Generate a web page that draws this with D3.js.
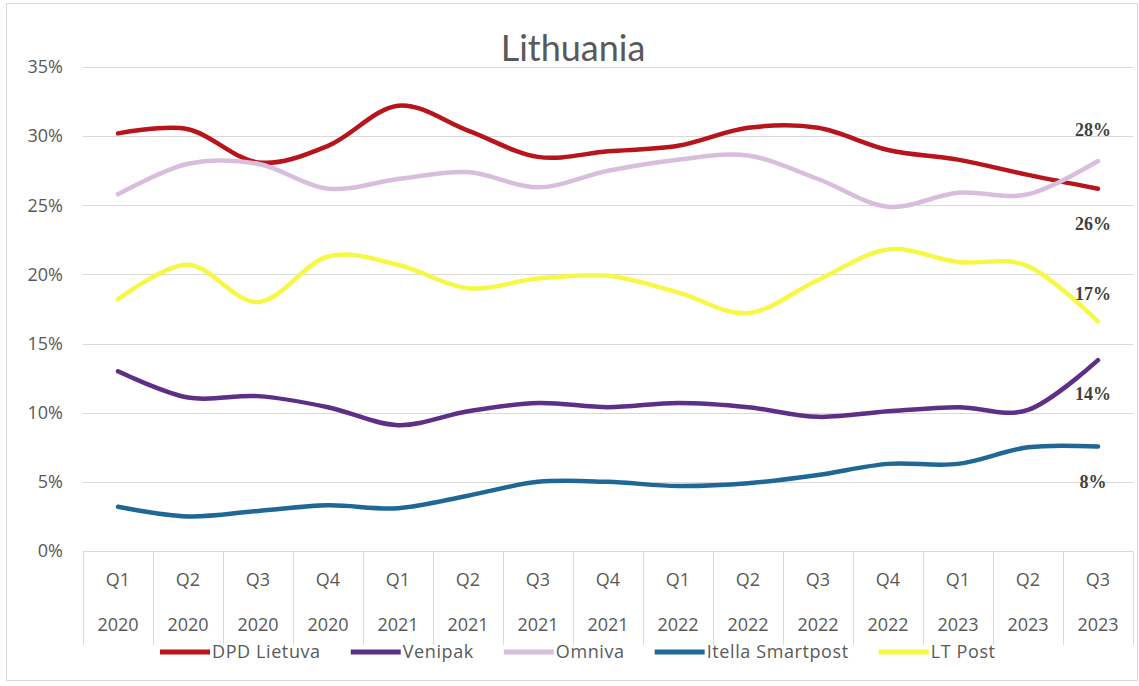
<!DOCTYPE html>
<html>
<head>
<meta charset="utf-8">
<script src="https://cdn.jsdelivr.net/npm/d3@7"></script>
<style>
  body { margin: 0; background: #fff; }
  text { font-family: "Open Sans", sans-serif; }
</style>
</head>
<body>
<svg id="chart" width="1139" height="686"></svg>
<script>
// quarters and years on the two-level category axis
const quarters = ["Q1","Q2","Q3","Q4","Q1","Q2","Q3","Q4","Q1","Q2","Q3","Q4","Q1","Q2","Q3"];
const years = ["2020","2020","2020","2020","2021","2021","2021","2021","2022","2022","2022","2022","2023","2023","2023"];

// market share in percent
const dpdLietuva = [30.2, 30.5, 28.1, 29.3, 32.2, 30.4, 28.5, 28.9, 29.3, 30.6, 30.6, 29.0, 28.3, 27.2, 26.2];
const venipak = [13.0, 11.1, 11.2, 10.4, 9.1, 10.1, 10.7, 10.4, 10.7, 10.4, 9.7, 10.1, 10.4, 10.2, 13.8];
const omniva = [25.8, 28.0, 28.0, 26.2, 26.9, 27.4, 26.3, 27.5, 28.3, 28.6, 26.9, 24.9, 25.9, 25.8, 28.2];
const itellaSmartpost = [3.2, 2.5, 2.9, 3.3, 3.1, 4.0, 5.0, 5.0, 4.7, 4.9, 5.5, 6.3, 6.3, 7.5, 7.55];
const ltPost = [18.2, 20.7, 18.0, 21.3, 20.7, 19.0, 19.7, 19.9, 18.7, 17.2, 19.6, 21.8, 20.9, 20.6, 16.6];

const yTicks = [0, 5, 10, 15, 20, 25, 30, 35];

const series = [
    {name: "DPD Lietuva", values: dpdLietuva, color: "#b8141c"},
    {name: "Venipak", values: venipak, color: "#5e2f86"},
    {name: "Omniva", values: omniva, color: "#d8bedc"},
    {name: "Itella Smartpost", values: itellaSmartpost, color: "#1f6896"},
    {name: "LT Post", values: ltPost, color: "#f7f745"}
];

//where the end labels sit relative to the last point
const labelDy = {"DPD Lietuva": 41, "Venipak": 40, "Omniva": -25, "Itella Smartpost": 41, "LT Post": -21};

const svg = d3.select("#chart");
const grid = "#d9d9d9";
const textColor = "#595959";

//outer chart border
svg.append("rect")
    .attr("x", 6.5).attr("y", 3.5)
    .attr("width", 1131).attr("height", 677)
    .attr("fill", "#fff").attr("stroke", grid);

const x = d3.scaleBand()
    .domain(d3.range(quarters.length))
    .range([83, 1133]);

const y = d3.scaleLinear()
    .domain([0, 35])
    .range([551, 67]);

//title
svg.append("text")
    .attr("x", 573).attr("y", 61)
    .attr("text-anchor", "middle")
    .style("font-family", "Lato, sans-serif")
    .style("font-size", "36px")
    .attr("fill", textColor)
    .text("Lithuania");

//horizontal grid lines
svg.append("g")
    .selectAll("line")
    .data(yTicks)
    .enter().append("line")
    .attr("x1", 83).attr("x2", 1133)
    .attr("y1", d => Math.round(y(d)) + 0.5)
    .attr("y2", d => Math.round(y(d)) + 0.5)
    .attr("stroke", grid);

//y labels
svg.append("g")
    .selectAll("text")
    .data(yTicks)
    .enter().append("text")
    .attr("x", 63)
    .attr("y", d => y(d))
    .attr("dy", "0.35em")
    .attr("text-anchor", "end")
    .style("font-size", "18px")
    .attr("fill", textColor)
    .text(d => d + "%");

//category separators below the axis
const seps = d3.range(quarters.length + 1).map(i => i < quarters.length ? x(i) : x.range()[1]);
svg.append("g")
    .selectAll("line")
    .data(seps)
    .enter().append("line")
    .attr("x1", d => Math.round(d) + 0.5).attr("x2", d => Math.round(d) + 0.5)
    .attr("y1", 551).attr("y2", 645)
    .attr("stroke", grid);

const catG = svg.append("g");
catG.selectAll(".q")
    .data(quarters)
    .enter().append("text")
    .attr("class", "q")
    .attr("x", (d, i) => x(i) + x.bandwidth() / 2)
    .attr("y", 580)
    .attr("dy", "0.35em")
    .attr("text-anchor", "middle")
    .style("font-size", "18px")
    .attr("fill", textColor)
    .text(d => d);

catG.selectAll(".yr")
    .data(years)
    .enter().append("text")
    .attr("class", "yr")
    .attr("x", (d, i) => x(i) + x.bandwidth() / 2)
    .attr("y", 625)
    .attr("dy", "0.35em")
    .attr("text-anchor", "middle")
    .style("font-size", "18px")
    .attr("fill", textColor)
    .text(d => d);

//smoothed lines, like excel does
const line = d3.line()
    .x((d, i) => x(i) + x.bandwidth() / 2)
    .y(d => y(d))
    .curve(d3.curveCardinal.tension(0));

svg.append("g")
    .selectAll("path")
    .data(series)
    .enter().append("path")
    .attr("d", d => line(d.values))
    .attr("fill", "none")
    .attr("stroke", d => d.color)
    .attr("stroke-width", 4.5)
    .attr("stroke-linecap", "round");

//labels at the last point
const fmt = d3.format(".0%");
const last = quarters.length - 1;
svg.append("g")
    .selectAll("text")
    .data(series)
    .enter().append("text")
    .attr("x", x(last) + x.bandwidth() / 2 - 5)
    .attr("y", d => y(d.values[last]) + labelDy[d.name])
    .attr("text-anchor", "middle")
    .style("font-family", "'Liberation Serif', serif")
    .style("font-weight", "bold")
    .style("font-size", "18px")
    .attr("fill", "#404040")
    .text(d => fmt(d.values[last] / 100));

//legend, laid out item after item
let lx = 160;
const legend = svg.append("g");
series.forEach(s => {
    legend.append("line")
        .attr("x1", lx).attr("x2", lx + 50)
        .attr("y1", 652).attr("y2", 652)
        .attr("stroke", s.color)
        .attr("stroke-width", 5);
    let t = legend.append("text")
        .attr("x", lx + 52)
        .attr("y", 652)
        .attr("dy", "0.35em")
        .style("font-size", "18px")
        .style("letter-spacing", "0.6px")
        .attr("fill", textColor)
        .text(s.name);
    lx += 52 + t.node().getComputedTextLength() + 30;
});
</script>
</body>
</html>
